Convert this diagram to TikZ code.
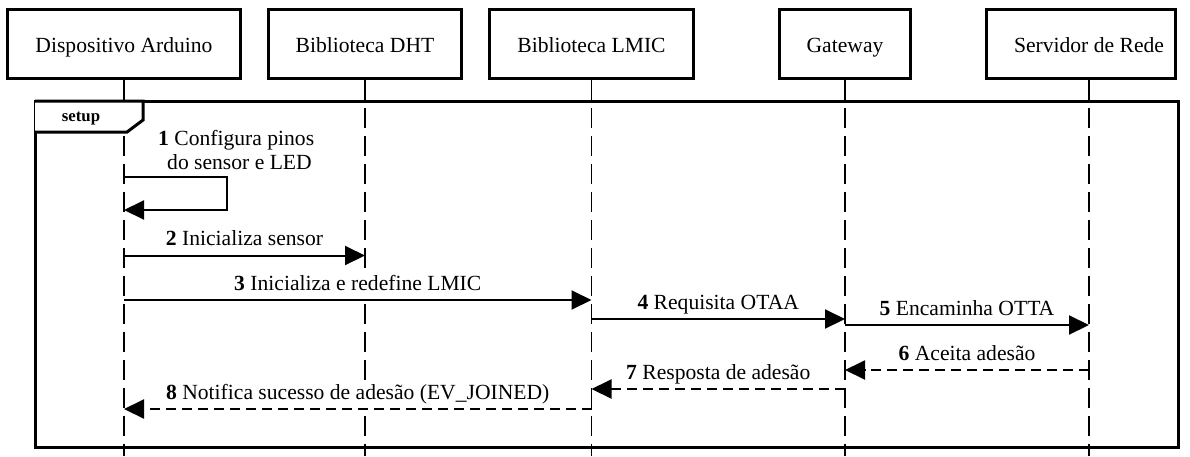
\documentclass[tikz,border=0pt]{standalone}
\usepackage{fontspec}
\setmainfont{Liberation Serif}
\usetikzlibrary{arrows.meta}
\begin{document}
\begin{tikzpicture}[x=1pt,y=-1pt,
  font=\fontsize{21.6}{24}\selectfont,
  pbox/.style={draw, line width=3pt, minimum height=69pt, inner sep=0pt, text height=18pt, text depth=0pt},
  life/.style={line width=1.7pt, dash pattern=on 20pt off 8pt},
  msg/.style={line width=2pt, -{Triangle[length=20pt,width=19pt]}},
  reply/.style={msg, dash pattern=on 10pt off 6pt},
  lbl/.style={midway, anchor=base, yshift=10pt, inner xsep=2pt, inner ysep=0pt, text height=16pt, text depth=8.5pt, fill=white},
  frm/.style={line width=3pt},
]
\useasboundingbox (0,0) rectangle (1190,456);
% participants
\node[pbox, minimum width=233pt] (A) at (124,43.5) {Dispositivo Arduino};
\node[pbox, minimum width=193pt] (B) at (365,43.5) {Biblioteca DHT};
\node[pbox, minimum width=204pt] (C) at (591.5,43.5) {Biblioteca LMIC};
\node[pbox, minimum width=131pt] (D) at (845,43.5) {Gateway};
\node[pbox, minimum width=189pt] (E) at (1081,43.5) {\hspace*{16pt}Servidor de Rede};
% lifeline tops
\coordinate (lA) at (A.south);
\coordinate (lB) at (B.south);
\coordinate (lC) at (C.south);
\coordinate (lD) at (D.south);
\coordinate (lE) at ([xshift=8pt]E.south);
% lifelines
\foreach \l in {lA,lB,lC,lD,lE}
  \draw[life] (\l) -- (\l |- 0,456);
% frame
\draw[frm] (35,101) rectangle (1178,447);
\draw[frm, fill=white] (35,101) -- (143,101) -- (143,120) -- (127,132) -- (35,132);
\node[font=\fontsize{16.8}{20}\selectfont\bfseries, anchor=base, inner sep=0pt] (setup) at (81,121.7) {setup};
% message 1 (self)
\node[anchor=base west, inner sep=0pt] (t1a) at (158,145) {\textbf{1} Configura pinos};
\node[anchor=base west, inner sep=0pt] (t1b) at (167,169) {do sensor e LED};
\draw[msg] (lA |- 0,177) -- (227,177) -- (227,210) -- (lA |- 0,210);
% messages
\draw[msg] (lA |- 0,255.5) -- node[lbl]{\textbf{2} Inicializa sensor} (lB |- 0,255.5);
\draw[msg] (lA |- 0,300) -- node[lbl]{\textbf{3} Inicializa e redefine LMIC} (lC |- 0,300);
\draw[msg] (lC |- 0,319) -- node[lbl]{\textbf{4} Requisita OTAA} (lD |- 0,319);
\draw[msg] (lD |- 0,325) -- node[lbl]{\textbf{5} Encaminha OTTA} (lE |- 0,325);
\draw[reply] (lE |- 0,370) -- node[lbl]{\textbf{6} Aceita adesão} (lD |- 0,370);
\draw[reply] (lD |- 0,389) -- node[lbl]{\textbf{7} Resposta de adesão} (lC |- 0,389);
\draw[reply] (lC |- 0,409) -- node[lbl]{\textbf{8} Notifica sucesso de adesão (EV\_JOINED)} (lA |- 0,409);
\end{tikzpicture}
\end{document}
